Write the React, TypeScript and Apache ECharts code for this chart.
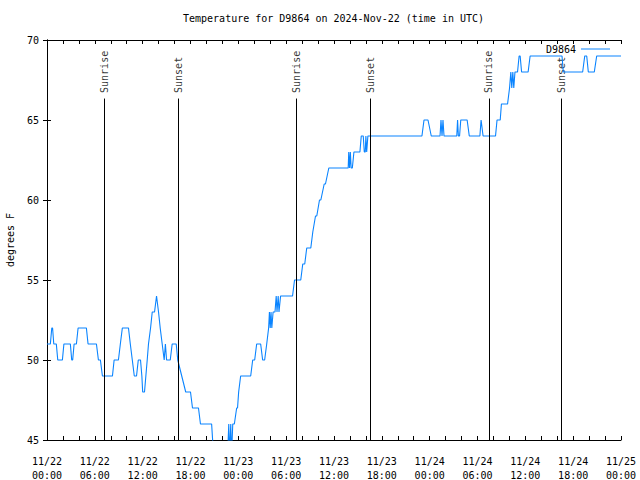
import React, { useEffect, useRef } from "react";
import * as echarts from "echarts";

const FONT = '"DejaVu Sans Mono", "Liberation Mono", monospace';

const titleText = "Temperature for D9864 on 2024-Nov-22 (time in UTC)";
const seriesName = "D9864";
const yAxisName = "degrees F";

// hours since 2024-11-22 00:00 UTC, temperature in °F
const day1: [number, number][] = [
  [0.0, 51], [0.42, 51], [0.6, 52], [0.7, 52], [0.85, 51], [1.17, 51], [1.35, 50], [1.93, 50],
  [2.12, 51], [2.93, 51], [3.1, 50], [3.22, 50], [3.4, 51], [3.69, 51], [3.9, 52], [4.94, 52],
  [5.15, 51], [6.2, 51], [6.45, 50], [6.7, 50], [6.95, 49], [8.21, 49], [8.42, 50], [8.96, 50],
  [9.2, 51], [9.45, 52], [10.22, 52], [10.45, 51], [10.7, 50], [10.95, 49], [11.23, 49], [11.45, 50],
  [11.73, 50], [11.9, 49], [12.0, 48], [12.23, 48], [12.4, 49], [12.57, 50], [12.73, 51], [12.99, 52],
  [13.2, 53], [13.49, 53], [13.74, 54], [13.99, 53], [14.2, 52], [14.45, 51], [14.7, 50], [14.85, 51],
  [15.0, 50], [15.46, 50], [15.7, 51], [16.21, 51], [16.4, 50], [16.9, 49], [17.4, 48], [18.0, 48],
  [18.25, 47], [19.0, 47], [19.25, 46], [20.65, 46], [20.9, 44], [22.65, 44], [22.8, 46], [22.9, 44],
  [23.05, 46], [23.15, 44], [23.3, 46], [23.5, 46], [23.79, 47], [23.9, 47],
];
const day2: [number, number][] = [
  [24.04, 48], [24.29, 49], [25.55, 49], [25.8, 50], [26.05, 50], [26.3, 51], [26.8, 51], [27.05, 50],
  [27.3, 50], [27.56, 51], [27.8, 52], [27.9, 53], [28.0, 52], [28.1, 53], [28.2, 52], [28.36, 53],
  [28.6, 53], [28.75, 54], [28.85, 53], [29.0, 54], [29.1, 53], [29.3, 54], [30.8, 54], [31.05, 55],
  [31.83, 55], [32.08, 56], [32.33, 56], [32.58, 57], [33.09, 57], [33.34, 58], [33.68, 59], [33.84, 59],
  [34.18, 60], [34.35, 60], [34.77, 61], [34.93, 61], [35.35, 62], [37.78, 62], [37.85, 63], [37.95, 62],
  [38.05, 63], [38.15, 62], [38.3, 62], [38.5, 63], [39.25, 63], [39.42, 64], [39.67, 64], [39.8, 63],
  [39.92, 63], [40.0, 64], [40.1, 63], [40.25, 64], [47.03, 64], [47.29, 65], [47.79, 65],
];
const day3: [number, number][] = [
  [48.2, 64], [49.3, 64], [49.42, 65], [49.55, 64], [49.67, 65], [49.8, 64], [51.4, 64], [51.5, 65],
  [51.6, 64], [51.75, 64], [51.9, 65], [52.7, 65], [52.97, 64], [54.3, 64], [54.45, 65], [54.7, 64],
  [56.26, 64], [56.45, 65], [56.85, 65], [57.0, 66], [57.77, 66], [58.02, 67], [58.18, 68], [58.3, 67],
  [58.43, 68], [58.55, 67], [58.7, 68], [59.02, 68], [59.22, 69], [59.35, 69], [59.53, 68], [60.35, 68],
  [60.6, 69], [64.6, 69], [64.76, 68], [67.19, 68], [67.45, 69], [67.7, 69], [67.9, 68], [68.65, 68],
  [68.95, 69], [72.0, 69],
];

const sunTimes = [7.19, 16.49, 31.3, 40.6, 55.44, 64.55];
const sunLabels = ["Sunrise", "Sunset", "Sunrise", "Sunset", "Sunrise", "Sunset"];

const xDateLabels = ["11/22", "11/22", "11/22", "11/22", "11/23", "11/23", "11/23", "11/23", "11/24", "11/24", "11/24", "11/24", "11/25"];
const xTimeLabels = ["00:00", "06:00", "12:00", "18:00", "00:00", "06:00", "12:00", "18:00", "00:00", "06:00", "12:00", "18:00", "00:00"];

export default function App() {
  const ref = useRef<HTMLDivElement>(null);
  useEffect(() => {
    const chart = echarts.init(ref.current!, null, { renderer: "svg" });
    const LABEL_Y = 66.69;
    const LINE_TOP = 66.34;
    const axisColor = "#000";
    const lineColor = "#0a84ff";
    const tickStyle = { inside: true, length: 4, lineStyle: { color: axisColor, width: 1 } };
    chart.setOption({
      animation: false,
      backgroundColor: "#fff",
      textStyle: { fontFamily: FONT },
      title: {
        text: titleText,
        left: 183,
        top: 13,
        padding: 0,
        textStyle: { fontFamily: FONT, fontSize: 10, fontWeight: "normal", color: "#000" },
      },
      legend: {
        data: [{ name: seriesName, icon: "rect" }],
        right: 30,
        top: 44,
        padding: 0,
        align: "right",
        itemWidth: 29,
        itemHeight: 1,
        itemStyle: { color: lineColor, borderWidth: 0 },
        textStyle: { fontFamily: FONT, fontSize: 10, color: "#000" },
      },
      grid: { left: 47, right: 19, top: 40, bottom: 40, outerBoundsMode: "none", containLabel: false },
      xAxis: [
        {
          type: "value",
          min: 0,
          max: 72,
          interval: 2,
          position: "bottom",
          axisLine: { lineStyle: { color: axisColor, width: 1 } },
          axisTick: tickStyle,
          splitLine: { show: false },
          axisLabel: {
            color: "#000",
            fontFamily: FONT,
            fontSize: 10,
            lineHeight: 14,
            margin: 14,
            formatter: (v: number) => {
              if (v % 6 !== 0) return "";
              const i = v / 6;
              return xDateLabels[i] + "\n" + xTimeLabels[i];
            },
          },
        },
        {
          type: "value",
          min: 0,
          max: 72,
          interval: 2,
          position: "top",
          axisLine: { lineStyle: { color: axisColor, width: 1 } },
          axisTick: tickStyle,
          splitLine: { show: false },
          axisLabel: { show: false },
        },
      ],
      yAxis: [
        {
          type: "value",
          min: 45,
          max: 70,
          interval: 5,
          position: "left",
          name: yAxisName,
          nameLocation: "middle",
          nameGap: 32,
          nameRotate: 90,
          nameTextStyle: { fontFamily: FONT, fontSize: 10, color: "#000" },
          axisLine: { show: true, lineStyle: { color: axisColor, width: 1 } },
          axisTick: { show: true, ...tickStyle },
          splitLine: { show: false },
          axisLabel: { color: "#000", fontFamily: FONT, fontSize: 10, margin: 8 },
        },
        {
          type: "value",
          min: 45,
          max: 70,
          interval: 5,
          position: "right",
          axisLine: { show: true, lineStyle: { color: axisColor, width: 1 } },
          axisTick: { show: true, ...tickStyle },
          splitLine: { show: false },
          axisLabel: { show: false },
        },
      ],
      series: [
        {
          type: "line",
          name: seriesName,
          xAxisIndex: 0,
          yAxisIndex: 0,
          data: [...day1, ...day2, ...day3],
          symbol: "none",
          showSymbol: false,
          clip: true,
          lineStyle: { color: lineColor, width: 1.1 },
          itemStyle: { color: lineColor },
        },
        {
          type: "scatter",
          name: "sun",
          xAxisIndex: 0,
          yAxisIndex: 0,
          silent: true,
          symbolSize: 0,
          data: sunTimes.map((t, i) => ({ value: [t, LABEL_Y], name: sunLabels[i] })),
          label: {
            show: true,
            formatter: "{b}",
            position: [0, 0],
            rotate: 90,
            align: "left",
            verticalAlign: "middle",
            fontFamily: FONT,
            fontSize: 10,
            color: "#000",
          },
          markLine: {
            silent: true,
            symbol: ["none", "none"],
            label: { show: false },
            lineStyle: { color: "#000", width: 1, type: "solid" },
            data: sunTimes.map((t) => [{ coord: [t, 45] }, { coord: [t, LINE_TOP] }]),
          },
        },
      ],
    });
    return () => chart.dispose();
  }, []);
  return (
    <div
      ref={ref}
      style={{ position: "fixed", left: 0, top: 0, width: 640, height: 480, background: "#fff" }}
    />
  );
}
